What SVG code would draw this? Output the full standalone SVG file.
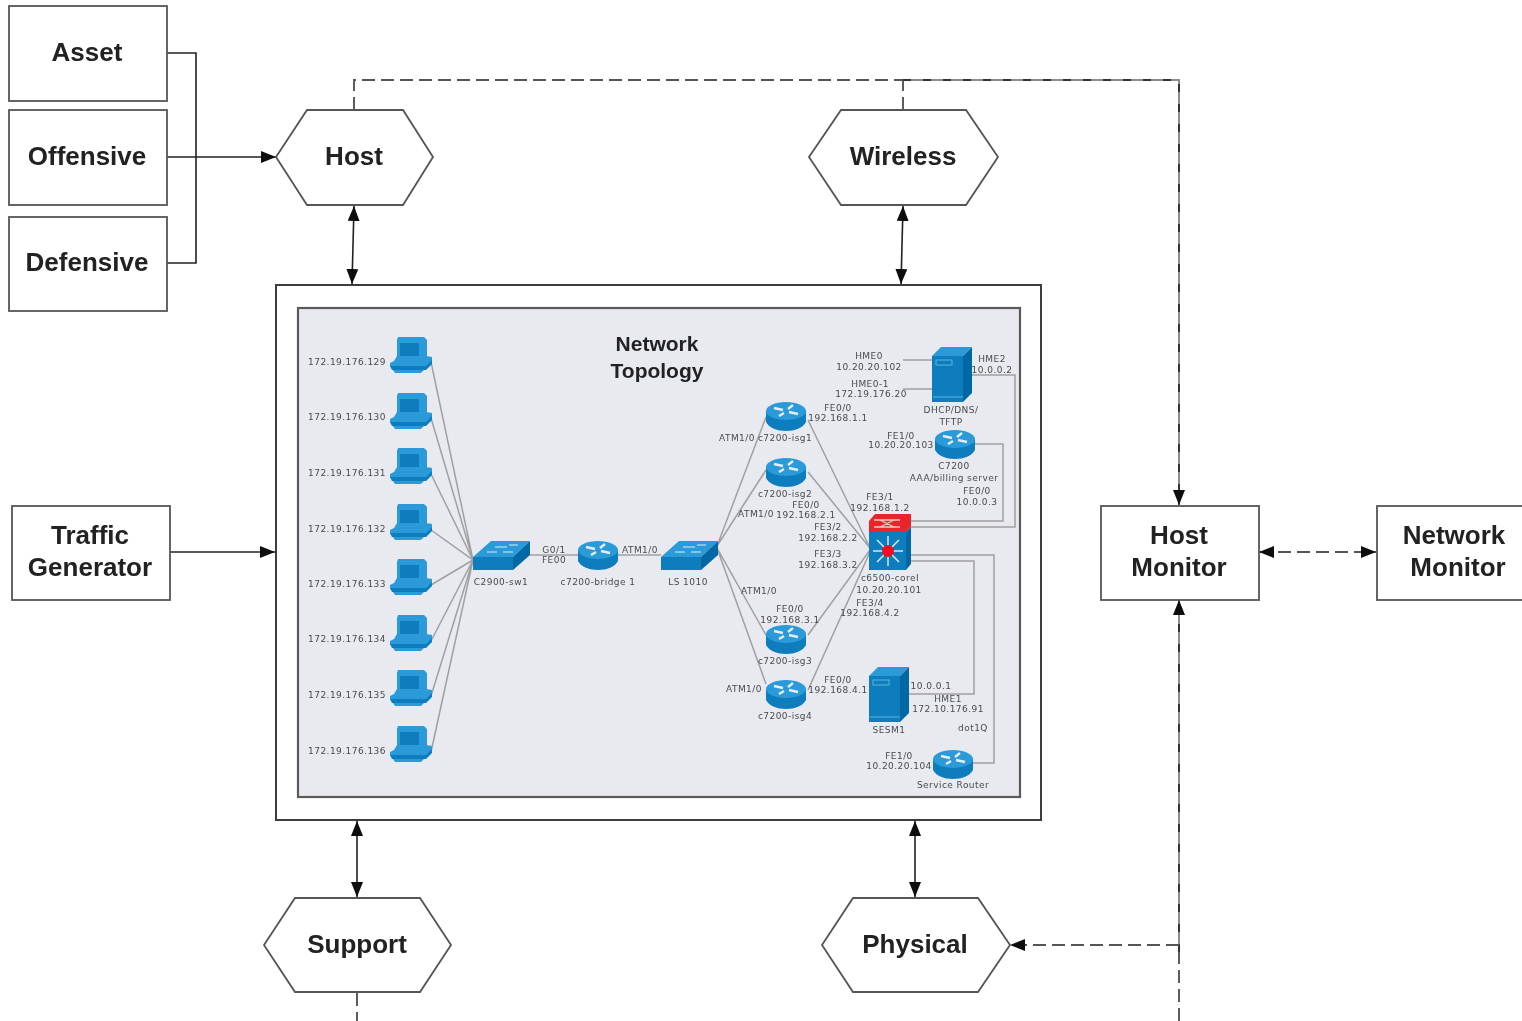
<svg xmlns="http://www.w3.org/2000/svg" width="1522" height="1021" viewBox="0 0 1522 1021">
<style>
.box{fill:#fff;stroke:#555;stroke-width:1.8}
.lbl{font:bold 26px "Liberation Sans",Arial,sans-serif;fill:#222;text-anchor:middle}
.t{font:9px "DejaVu Sans",sans-serif;letter-spacing:.45px;fill:#4a4a4a;text-anchor:middle}
.con{fill:none;stroke:#222;stroke-width:1.6}
.dash{stroke-dasharray:13 6;stroke:#555;stroke-width:1.9}
.under{fill:none;stroke:#8c8c8c;stroke-width:2}
.over{fill:none;stroke:#333;stroke-width:2;stroke-dasharray:8 12}
.lnk{fill:none;stroke:#a0a0a0;stroke-width:1.5}
.b1{fill:#0a7dbd}.b2{fill:#2a9bd8}.b3{fill:#0568a3}.ray{fill:none;stroke:#e6eef4;stroke-width:2.4}
</style>
<defs>
<marker id="a" viewBox="0 0 15 12" refX="15" refY="6" markerWidth="15" markerHeight="12" markerUnits="userSpaceOnUse" orient="auto-start-reverse"><path d="M0 0L15 6L0 12z" fill="#111"/></marker>
<filter id="soft" x="0" y="0" width="1522" height="1021" filterUnits="userSpaceOnUse"><feGaussianBlur stdDeviation="0.6"/></filter>
<g id="pc">
<path class="b2" d="M8 0H34L37 3V20H7V3z"/><rect class="b1" x="10" y="6" width="19" height="13"/>
<path class="b2" d="M4 24L7 19H36L42 20V24L36 30H0V26z"/><path class="b1" d="M0 29H36L42 23V27L36 33H2z"/><path class="b2" d="M3 33H34L31 36H5z"/>
</g>
<g id="rt">
<path class="b1" d="M-20-5V6C-14 18 14 18 20 6V-5z"/>
<ellipse class="b2" cx="0" cy="-5" rx="20" ry="9"/>
<path class="ray" d="M-12-8L-3-6M3-4L12-2M7-11L2-7M-2-3L-7 0"/>
</g>
<g id="sw">
<path class="b2" d="M0 16L18 0H57L40 16z"/><path class="b1" d="M0 16H40V29H0z"/><path class="b3" d="M40 16L57 0V14L40 29z"/>
<path d="M14 11H24M22 6H34M36 4H45M30 11H40" stroke="#dcecf5" stroke-width="1.2" fill="none"/>
</g>
<g id="srv">
<path class="b2" d="M0 9L9 0H40L31 9z"/><path class="b1" d="M0 9H31V55H0z"/><path class="b3" d="M31 9L40 0V46L31 55z"/>
<rect x="4" y="13" width="16" height="5" fill="none" stroke="#5fb5e0" stroke-width="1"/><path d="M1 50H31" stroke="#5fb5e0"/>
</g>
</defs>
<rect width="1522" height="1021" fill="#fff"/>
<g filter="url(#soft)">
<g id="topology-frame">
<rect x="276" y="285" width="765" height="535" fill="#fff" stroke="#3c3c3c" stroke-width="2"/>
<rect x="298" y="308" width="722" height="489" fill="#e8eaf0" stroke="#5a5a5a" stroke-width="2.2"/>
<text class="lbl" style="font-size:21px" x="657" y="351">Network</text>
<text class="lbl" style="font-size:21px" x="657" y="378">Topology</text>
</g>
<g id="connectors">
<path class="con" d="M167 53H196V263H167"/>
<path class="con" d="M167 157H276" marker-end="url(#a)"/>
<path class="con dash" d="M354 110V80H903"/>
<path class="con dash" d="M903 110V80"/>
<path class="under" d="M903 80H1179V495"/>
<path class="over" d="M903 80H1179V495"/>
<path class="con" d="M1179 490V505" marker-end="url(#a)"/>
<path class="con" d="M354 206L352 284" marker-start="url(#a)" marker-end="url(#a)"/>
<path class="con" d="M903 206L901 284" marker-start="url(#a)" marker-end="url(#a)"/>
<path class="con" d="M170 552H275" marker-end="url(#a)"/>
<path class="con dash" d="M1259 552H1376" marker-start="url(#a)" marker-end="url(#a)"/>
<path class="con" d="M357 821V897" marker-start="url(#a)" marker-end="url(#a)"/>
<path class="con" d="M915 821V897" marker-start="url(#a)" marker-end="url(#a)"/>
<path class="con dash" d="M1179 1021V952"/>
<path class="under" d="M1179 952V610"/>
<path class="over" d="M1179 952V610"/>
<path class="con" d="M1179 615V600" marker-end="url(#a)"/>
<path class="con dash" d="M1179 945H1010" marker-end="url(#a)"/>
<path class="con dash" d="M357 993V1021"/>
</g>
<g id="inner-links">
<path class="lnk" d="M431 362L473 560M431 418L473 560M431 474L473 560M431 530L473 560M431 585L473 560M431 641L473 560M431 696L473 560M431 752L473 560"/>
<path class="lnk" d="M530 555H661"/>
<path class="lnk" d="M717 546L766 417M717 546L766 470M717 548L766 635M717 548L766 684"/>
<path class="lnk" d="M808 420L870 548M808 472L870 548M808 635L870 550M808 690L870 552"/>
<path class="lnk" d="M903 360H932M903 389H932M971 375H1015V527H911M975 444H1003V521H911M911 555H994V763H973M911 561H974V694H909"/>
</g>
<g id="pc1"><use href="#pc" x="390" y="337"/><text class="t" x="347" y="365">172.19.176.129</text></g>
<g id="pc2"><use href="#pc" x="390" y="393"/><text class="t" x="347" y="420">172.19.176.130</text></g>
<g id="pc3"><use href="#pc" x="390" y="448"/><text class="t" x="347" y="476">172.19.176.131</text></g>
<g id="pc4"><use href="#pc" x="390" y="504"/><text class="t" x="347" y="532">172.19.176.132</text></g>
<g id="pc5"><use href="#pc" x="390" y="559"/><text class="t" x="347" y="587">172.19.176.133</text></g>
<g id="pc6"><use href="#pc" x="390" y="615"/><text class="t" x="347" y="642">172.19.176.134</text></g>
<g id="pc7"><use href="#pc" x="390" y="670"/><text class="t" x="347" y="698">172.19.176.135</text></g>
<g id="pc8"><use href="#pc" x="390" y="726"/><text class="t" x="347" y="754">172.19.176.136</text></g>
<g id="c2900"><use href="#sw" x="473" y="541"/><text class="t" x="501" y="585">C2900-sw1</text><text class="t" x="554" y="553">G0/1</text><text class="t" x="554" y="563">FE00</text></g>
<g id="bridge"><use href="#rt" x="598" y="555"/><text class="t" x="598" y="585">c7200-bridge 1</text><text class="t" x="640" y="553">ATM1/0</text></g>
<g id="ls1010"><use href="#sw" x="661" y="541"/><text class="t" x="688" y="585">LS 1010</text></g>
<g id="isg1"><use href="#rt" x="786" y="416"/><text class="t" x="785" y="441">c7200-isg1</text><text class="t" x="737" y="441">ATM1/0</text><text class="t" x="838" y="411">FE0/0</text><text class="t" x="838" y="421">192.168.1.1</text></g>
<g id="isg2"><use href="#rt" x="786" y="472"/><text class="t" x="785" y="497">c7200-isg2</text><text class="t" x="756" y="517">ATM1/0</text><text class="t" x="806" y="508">FE0/0</text><text class="t" x="806" y="518">192.168.2.1</text></g>
<g id="isg3"><use href="#rt" x="786" y="639"/><text class="t" x="785" y="664">c7200-isg3</text><text class="t" x="759" y="594">ATM1/0</text><text class="t" x="790" y="612">FE0/0</text><text class="t" x="790" y="623">192.168.3.1</text></g>
<g id="isg4"><use href="#rt" x="786" y="694"/><text class="t" x="785" y="719">c7200-isg4</text><text class="t" x="744" y="692">ATM1/0</text><text class="t" x="838" y="683">FE0/0</text><text class="t" x="838" y="693">192.168.4.1</text></g>
<g id="dhcp"><use href="#srv" x="932" y="347"/><text class="t" x="951" y="413">DHCP/DNS/</text><text class="t" x="951" y="425">TFTP</text><text class="t" x="869" y="359">HME0</text><text class="t" x="869" y="370">10.20.20.102</text><text class="t" x="870" y="387">HME0-1</text><text class="t" x="871" y="397">172.19.176.20</text><text class="t" x="992" y="362">HME2</text><text class="t" x="992" y="373">10.0.0.2</text></g>
<g id="aaa"><use href="#rt" x="955" y="444"/><text class="t" x="954" y="469">C7200</text><text class="t" x="954" y="481">AAA/billing server</text><text class="t" x="901" y="439">FE1/0</text><text class="t" x="901" y="448">10.20.20.103</text><text class="t" x="977" y="494">FE0/0</text><text class="t" x="977" y="505">10.0.0.3</text></g>
<g id="core">
<path fill="#e8262a" d="M869 521L875 514H911V527L906 532H869z"/><path fill="none" stroke="#f6c8c8" stroke-width="1.3" d="M874 520H900M874 527H900M880 520L894 527M894 520L880 527"/>
<path class="b1" d="M869 532H906V570H869z"/><path class="b3" d="M906 532L911 527V564L906 570z"/>
<path d="M888 536V566M873 551H903M877 540L899 562M899 540L877 562" stroke="#d8e8f2" stroke-width="1.5"/><circle cx="888" cy="551" r="6" fill="#f01020"/>
<text class="t" x="890" y="581">c6500-coreI</text><text class="t" x="889" y="593">10.20.20.101</text>
<text class="t" x="880" y="500">FE3/1</text><text class="t" x="880" y="511">192.168.1.2</text><text class="t" x="828" y="530">FE3/2</text><text class="t" x="828" y="541">192.168.2.2</text><text class="t" x="828" y="557">FE3/3</text><text class="t" x="828" y="568">192.168.3.2</text><text class="t" x="870" y="606">FE3/4</text><text class="t" x="870" y="616">192.168.4.2</text>
</g>
<g id="sesm"><use href="#srv" x="869" y="667"/><text class="t" x="889" y="733">SESM1</text><text class="t" x="931" y="689">10.0.0.1</text><text class="t" x="948" y="702">HME1</text><text class="t" x="948" y="712">172.10.176.91</text><text class="t" x="973" y="731">dot1Q</text></g>
<g id="service-router"><use href="#rt" x="953" y="764"/><text class="t" x="953" y="788">Service Router</text><text class="t" x="899" y="759">FE1/0</text><text class="t" x="899" y="769">10.20.20.104</text></g>
<g id="asset"><rect class="box" x="9" y="6" width="158" height="95"/><text class="lbl" x="87" y="61">Asset</text></g>
<g id="offensive"><rect class="box" x="9" y="110" width="158" height="95"/><text class="lbl" x="87" y="165">Offensive</text></g>
<g id="defensive"><rect class="box" x="9" y="217" width="158" height="94"/><text class="lbl" x="87" y="271">Defensive</text></g>
<g id="host"><path class="box" d="M276 157L307 110H403L433 157L403 205H307z"/><text class="lbl" x="354" y="165">Host</text></g>
<g id="wireless"><path class="box" d="M809 157L841 110H966L998 157L966 205H841z"/><text class="lbl" x="903" y="165">Wireless</text></g>
<g id="traffic-generator"><rect class="box" x="12" y="506" width="158" height="94"/><text class="lbl" x="90" y="544">Traffic</text><text class="lbl" x="90" y="576">Generator</text></g>
<g id="host-monitor"><rect class="box" x="1101" y="506" width="158" height="94"/><text class="lbl" x="1179" y="544">Host</text><text class="lbl" x="1179" y="576">Monitor</text></g>
<g id="network-monitor"><rect class="box" x="1377" y="506" width="160" height="94"/><text class="lbl" x="1454" y="544">Network</text><text class="lbl" x="1458" y="576">Monitor</text></g>
<g id="support"><path class="box" d="M264 945L295 898H420L451 945L420 992H295z"/><text class="lbl" x="357" y="953">Support</text></g>
<g id="physical"><path class="box" d="M822 945L853 898H978L1010 945L978 992H853z"/><text class="lbl" x="915" y="953">Physical</text></g>
</g>
</svg>
